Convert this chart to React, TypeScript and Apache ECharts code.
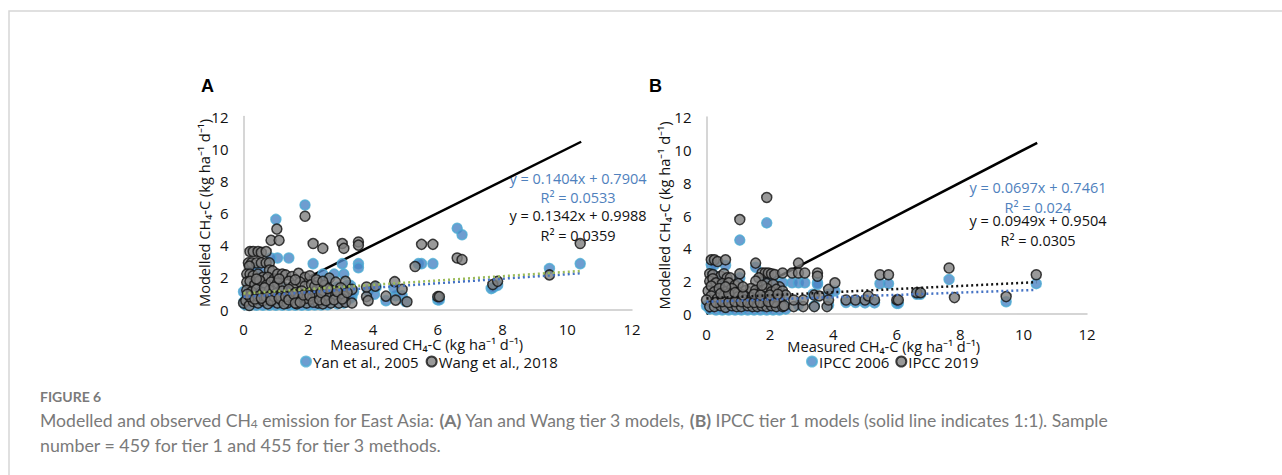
import React, { useEffect, useRef } from "react";
import * as echarts from "echarts";

const yanA: number[][] = [
[1.9,6.5],[1.0,5.6],[6.6,5.05],[6.75,4.65],[1.05,3.2],[1.4,3.2],[0.85,3.2],[2.15,2.85],[3.05,2.85],[3.55,2.85],[3.55,2.6],
[5.4,2.85],[5.5,2.85],[5.85,2.85],[2.45,2.2],[2.8,2.2],[3.1,2.2],[2.6,1.9],[3.3,1.5],[0.4,2.5],[0.55,2.4],[0.25,2.6],
[7.65,1.3],[7.7,1.35],[7.85,1.5],[9.45,2.55],[10.4,2.85],[6.0,0.6],[6.05,0.6],[3.85,1.15],[4.05,0.95],[4.1,1.4],[4.4,0.55],[4.7,0.85],[4.9,0.85],[5.0,0.5],[4.65,1.3],
[0.0,1.1],[0.02,0.5],[0.05,0.3],[0.2,0.27],[0.4,0.27],[0.6,0.27],[0.8,0.27],[1.0,0.27],[1.2,0.27],[1.4,0.27],[1.6,0.27],[1.8,0.27],[2.0,0.27],[2.2,0.28],[2.4,0.28],[2.6,0.3],[2.9,0.35],[3.1,0.4],[3.35,0.8],[3.4,1.1],[3.2,1.5],
[0.15,1.4],[0.5,1.2],[0.9,0.9],[1.3,1.3],[1.7,0.8],[2.1,1.2],[2.5,1.0],[2.9,1.4],[3.3,0.7],[0.3,0.7],[0.7,0.5],[1.1,0.5],[1.5,0.5],[1.9,0.5],[2.3,0.5],[2.7,0.6],[3.0,0.9],
];
const wangA: number[][] = [
[1.9,5.8],[1.03,5.0],[0.85,4.3],[1.1,4.3],[2.15,4.1],[2.45,3.8],[3.05,4.1],[3.1,3.8],[3.55,4.2],[3.55,4.0],
[0.2,3.6],[0.3,3.6],[0.45,3.6],[0.55,3.55],[0.7,3.6],[0.15,2.9],[0.25,2.9],[0.4,2.9],[0.55,2.9],[0.7,2.9],[0.8,2.9],[0.18,2.7],[0.8,2.45],[0.9,2.4],
[0.1,2.2],[0.2,2.2],[0.3,2.1],[0.45,2.2],[0.6,2.0],[0.75,2.0],[0.95,1.9],[1.05,2.2],[1.2,2.2],[1.3,2.15],[1.5,2.05],[1.7,2.25],[1.9,2.0],[2.05,2.1],[2.3,1.7],[2.65,1.95],[2.85,1.7],[3.15,1.75],[2.5,1.5],
[0.1,1.7],[0.2,1.75],[0.35,1.55],[0.5,1.8],[0.7,1.5],[0.85,1.7],[1.05,1.65],[1.2,1.45],[1.4,1.75],[1.55,1.5],[1.75,1.7],[1.9,1.45],[2.1,1.55],[2.3,1.3],[2.7,1.2],[3.0,1.35],[3.35,1.25],
[0.1,1.2],[0.25,1.1],[0.4,1.25],[0.6,1.05],[0.8,1.2],[1.0,1.0],[1.2,1.15],[1.4,1.25],[1.6,1.05],[1.8,1.15],[2.0,1.0],[2.2,1.1],[2.45,0.95],[2.65,0.75],[2.85,0.9],[3.1,0.85],
[0.0,0.4],[0.07,0.55],[0.18,0.25],[0.3,0.5],[0.45,0.4],[0.6,0.55],[0.75,0.35],[0.9,0.6],[1.05,0.4],[1.2,0.55],[1.35,0.4],[1.5,0.6],[1.65,0.35],[1.8,0.55],[1.95,0.4],[2.1,0.65],[2.3,0.4],[2.45,0.35],[2.7,0.4],[2.95,0.4],[3.15,0.45],[3.35,0.4],
[0.2,0.8],[0.45,0.8],[0.7,0.8],[0.95,0.8],[1.15,0.8],[1.45,0.85],[1.7,0.75],[1.95,0.7],[2.25,0.75],
[0.12,0.95],[0.35,0.65],[0.55,0.7],[0.65,1.35],[0.85,0.55],[0.95,1.4],[1.1,0.7],[1.25,0.35],[1.3,0.8],[1.4,0.6],[1.55,0.95],[1.6,0.4],[1.75,0.45],[1.85,0.9],[2.05,0.85],[2.15,0.45],[2.2,1.45],[2.35,0.6],[2.4,1.05],[2.55,0.55],[2.6,1.3],[2.8,0.6],[2.9,1.1],[3.05,0.65],[3.2,1.05],[1.6,1.85],[2.25,1.85],[2.45,1.75],[1.1,1.9],[0.4,1.9],
[3.8,0.8],[3.85,0.55],[3.8,1.4],[4.07,1.45],[4.4,0.83],[4.7,0.58],[4.67,1.73],[4.9,1.25],[5.05,0.48],
[5.3,2.67],[5.5,4.05],[5.85,4.05],[6.0,0.8],[6.05,0.8],[6.6,3.2],[6.75,3.1],[7.7,1.55],[7.85,1.75],[9.45,2.15],[10.4,4.1],
];
const ipcc06: number[][] = [
[1.9,5.55],[1.05,4.5],[0.15,3.0],[0.25,3.0],[0.6,2.95],[1.55,2.85],[0.2,2.4],[0.5,2.1],[1.05,2.2],
[2.4,1.9],[2.7,1.9],[2.9,1.9],[3.1,1.9],[3.5,1.9],[1.9,2.05],[2.1,2.0],[3.5,1.8],[4.05,1.4],[3.85,1.2],[3.35,1.2],[5.47,1.85],[5.74,1.85],[7.65,2.1],[10.4,1.85],[9.45,0.75],
[6.0,0.65],[6.05,0.65],[6.63,1.2],[6.75,1.2],[4.4,0.7],[4.7,0.7],[5.0,0.68],[5.3,0.68],[3.85,0.55],[3.4,0.5],[2.9,0.55],[2.45,0.5],
[0.0,0.5],[0.1,0.3],[0.3,0.25],[0.5,0.25],[0.7,0.25],[0.9,0.25],[1.1,0.25],[1.3,0.25],[1.5,0.25],[1.7,0.25],[1.9,0.25],[2.1,0.25],[2.3,0.25],[2.5,0.3],
[0.4,1.3],[0.8,0.9],[1.2,1.1],[1.6,0.7],[2.0,1.0],[2.4,1.2],
];
const ipcc19: number[][] = [
[1.9,7.1],[1.05,5.75],[0.15,3.3],[0.25,3.3],[0.35,3.2],[0.6,3.3],[1.55,3.1],[2.9,3.1],[1.05,2.45],
[0.1,2.45],[0.2,2.4],[0.45,2.3],[0.55,2.45],[0.65,2.2],[0.75,2.2],[1.75,2.5],[1.85,2.5],[1.95,2.5],[2.05,2.45],[2.15,2.4],[2.4,2.5],[2.7,2.5],[2.9,2.5],[3.1,2.5],[3.5,2.5],[3.5,2.3],[1.65,2.2],[1.55,2.0],
[0.1,2.0],[0.2,2.15],[0.3,1.9],[0.5,1.85],[0.7,1.9],[0.9,1.75],[1.0,1.85],[2.3,1.65],[1.9,1.85],[2.1,1.8],
[0.05,1.4],[0.15,1.7],[0.25,1.35],[0.4,1.55],[0.6,1.35],[0.8,1.55],[1.0,1.3],[1.25,1.45],[1.4,1.55],[1.55,1.45],[1.75,1.35],[1.9,1.55],[2.05,1.35],[2.2,1.5],[2.4,1.4],
[0.15,1.1],[0.35,0.95],[0.55,1.1],[0.75,1.0],[1.0,1.05],[1.2,0.85],[1.4,1.0],[1.65,0.9],[1.85,1.05],[2.05,0.85],[2.3,0.9],[-0.0,0.85],[2.5,1.15],
[0.1,0.45],[0.25,0.45],[0.45,0.5],[0.6,0.4],[0.8,0.5],[0.95,0.45],[1.1,0.45],[1.3,0.5],[1.45,0.45],[1.6,0.45],[1.75,0.5],[1.9,0.45],[2.05,0.5],[2.2,0.45],[2.4,0.45],[2.45,0.5],[2.75,0.45],[3.05,0.45],[3.4,0.45],[3.8,0.45],
[0.3,0.7],[0.5,0.75],[0.7,0.7],[0.9,0.75],[1.1,0.75],[1.3,0.7],[1.5,0.7],[1.7,0.7],[1.95,0.75],[2.15,0.7],[0.45,1.25],[0.7,1.25],[0.9,1.3],[1.15,1.15],[1.5,1.2],[1.7,1.15],[2.0,1.15],[2.25,1.2],[1.75,1.75],[0.6,1.65],[1.15,1.65],
[2.75,0.85],[3.05,0.85],[3.4,1.15],[3.55,1.1],[3.85,0.85],[3.85,1.5],[4.05,1.9],[4.4,0.85],[4.7,0.85],[5.0,0.85],[5.1,1.1],[5.3,0.86],[5.47,2.39],[5.74,2.39],
[6.0,0.86],[6.05,0.86],[6.63,1.3],[6.75,1.3],[7.65,2.8],[7.82,1.0],[9.45,1.06],[10.4,2.39],
];
const oneToOne = [[0, 0], [10.43, 10.43]];
const trendYanA = [[0, 0.7904], [10.4, 2.25]];
const trendWangA = [[0, 0.9988], [10.4, 2.395]];
const trend06 = [[0, 0.7461], [10.4, 1.471]];
const trend19 = [[0, 0.9504], [10.4, 1.937]];
const tickLabels = ["0", "2", "4", "6", "8", "10", "12"];

const CHART_FONT = "'Open Sans', sans-serif";
const CAP_FONT = "Lato, sans-serif";
const BLUE_TXT = "#4f81bd";
const CAP = "#7a7a7a";

const yanStyle = { color: "#4a84c4", borderColor: "#4cabd3", borderWidth: 1.5 };
const greyStyle = { color: "#7f7f7f", borderColor: "#111", borderWidth: 1.5 };

const axis = (idx: number, isX: boolean) => ({
  type: "value", gridIndex: idx, min: 0, max: 12, interval: 2,
  splitLine: { show: false }, axisTick: { show: false },
  axisLine: { show: true, onZero: false, lineStyle: { color: "#c8c8c8", width: 1.5 } },
  axisLabel: {
    color: "#111", fontSize: 15, fontFamily: CHART_FONT, margin: isX ? 12 : 15,
    formatter: (v: number) => tickLabels[v / 2],
  },
  name: isX ? "Measured CH₄-C (kg ha⁻¹ d⁻¹)" : "Modelled CH₄-C (kg ha⁻¹ d⁻¹)",
  nameLocation: "middle", nameMoveOverlap: false,
  nameGap: isX ? (idx ? 24 : 27) : (idx ? 35 : 32),
  nameTextStyle: {
    color: "#111", fontSize: 14.6, fontFamily: CHART_FONT,
    padding: isX ? [0, idx ? 26 : 22, 0, 0] : [0, 0, 0, 0],
  },
});

const scatter = (name: string, data: number[][], idx: number, itemStyle: object) => ({
  type: "scatter", name, data, xAxisIndex: idx, yAxisIndex: idx, symbolSize: 10, itemStyle, clip: false, z: 3,
});
const line = (name: string, data: number[][], idx: number, color: string, type: any, width: number, z: number) => ({
  type: "line", name, data, xAxisIndex: idx, yAxisIndex: idx, showSymbol: false, symbol: "none",
  lineStyle: { color, type, width }, z,
});
const note = (text: string, x: number, y: number, fill: string) => ({
  type: "text", x, y,
  style: { text, fill, fontSize: 14.5, fontFamily: CHART_FONT, textAlign: "center", textVerticalAlign: "middle" },
});
const capRich = {
  g: { fill: CAP, fontSize: 17.6, fontFamily: CAP_FONT },
  b: { fill: CAP, fontSize: 17.6, fontFamily: CAP_FONT, fontWeight: "bold" },
  s: { fill: CAP, fontSize: 12, fontFamily: CAP_FONT, verticalAlign: "bottom", padding: [6, 0, 0, 0] },
};
const legendText = { color: "#111", fontSize: 15, fontFamily: CHART_FONT, padding: [0, 0, 0, -3] };

export default function App() {
  const ref = useRef<HTMLDivElement>(null);
  useEffect(() => {
    document.body.style.margin = "0";
    const chart = echarts.init(ref.current!, undefined, { renderer: "svg" });
    chart.setOption({
      animation: false,
      backgroundColor: "#fff",
      grid: [
        { left: 243.5, top: 116.5, width: 388.5, height: 193 },
        { left: 706.5, top: 117, width: 380.5, height: 197 },
      ],
      xAxis: [axis(0, true), axis(1, true)],
      yAxis: [axis(0, false), axis(1, false)],
      legend: [
        { data: ["Yan et al., 2005", "Wang et al., 2018"], left: 295, top: 349, itemWidth: 10, itemHeight: 10, itemGap: 7,
          icon: "circle", textStyle: legendText },
        { data: ["IPCC 2006", "IPCC 2019"], left: 801, top: 349, itemWidth: 10, itemHeight: 10, itemGap: 6,
          icon: "circle", textStyle: legendText },
      ],
      series: [
        line("1:1 A", oneToOne, 0, "#000", "solid", 2.5, 1),
        scatter("Yan et al., 2005", yanA, 0, yanStyle),
        scatter("Wang et al., 2018", wangA, 0, greyStyle),
        line("Yan trend", trendYanA, 0, "#4472c4", [2, 3], 2.5, 5),
        line("Wang trend", trendWangA, 0, "#9bbb59", [2, 3], 2.5, 5),
        line("1:1 B", oneToOne, 1, "#000", "solid", 2.5, 1),
        scatter("IPCC 2006", ipcc06, 1, yanStyle),
        scatter("IPCC 2019", ipcc19, 1, greyStyle),
        line("2006 trend", trend06, 1, "#4472c4", [2, 3], 2.5, 5),
        line("2019 trend", trend19, 1, "#111", [2, 3], 2.5, 5),
      ],
      graphic: [
        { type: "polyline", shape: { points: [[9, 475], [9, 11], [1282, 11]] }, style: { stroke: "#d6d6d6", fill: "none", lineWidth: 1.5 } },
        { type: "text", x: 201, y: 86, style: { text: "A", fontSize: 18, fontWeight: "bold", fill: "#000", fontFamily: "Liberation Sans", textVerticalAlign: "middle" } },
        { type: "text", x: 649, y: 86, style: { text: "B", fontSize: 18, fontWeight: "bold", fill: "#000", fontFamily: "Liberation Sans", textVerticalAlign: "middle" } },
        note("y = 0.1404x + 0.7904", 578, 178, BLUE_TXT),
        note("R² = 0.0533", 578, 197, BLUE_TXT),
        note("y = 0.1342x + 0.9988", 578, 215, "#111"),
        note("R² = 0.0359", 578, 235, "#111"),
        note("y = 0.0697x + 0.7461", 1038, 187, BLUE_TXT),
        note("R² = 0.024", 1038, 207, BLUE_TXT),
        note("y = 0.0949x + 0.9504", 1038, 220, "#111"),
        note("R² = 0.0305", 1038, 240, "#111"),
        { type: "text", x: 40, y: 396, style: { text: "FIGURE 6", fill: CAP, fontSize: 14, fontFamily: CAP_FONT, fontWeight: "bold", textVerticalAlign: "middle" } },
        { type: "text", x: 40, y: 420, style: { text: "{g|Modelled and observed CH}{s|4}{g| emission for East Asia: }{b|(A)}{g| Yan and Wang tier 3 models, }{b|(B)}{g| IPCC tier 1 models (solid line indicates 1:1). Sample}", rich: capRich, textVerticalAlign: "middle" } },
        { type: "text", x: 40, y: 445, style: { text: "number = 459 for tier 1 and 455 for tier 3 methods.", fill: CAP, fontSize: 17.8, fontFamily: CAP_FONT, textVerticalAlign: "middle" } },
      ],
    });
    return () => chart.dispose();
  }, []);
  return <div ref={ref} style={{ width: 1282, height: 475 }} />;
}
